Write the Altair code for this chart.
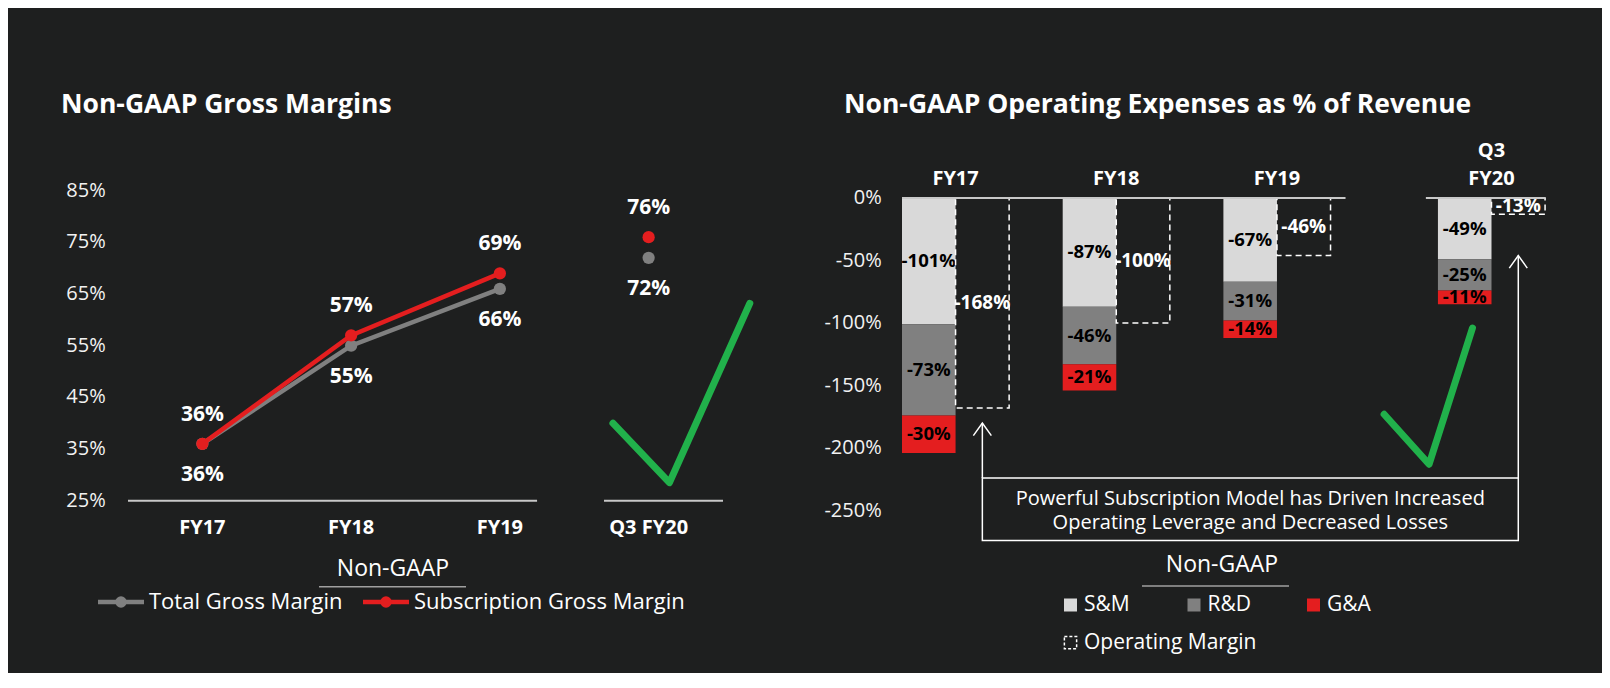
import altair as alt
import pandas as pd

# Non-GAAP gross margins (%)
gm_periods = ["FY17", "FY18", "FY19", "Q3 FY20"]
total_gm = [36, 55, 66, 72]
subscription_gm = [36, 57, 69, 76]
gm_ticks = [25, 35, 45, 55, 65, 75, 85]

# Non-GAAP operating expenses as % of revenue
opex_periods = ["FY17", "FY18", "FY19", "Q3 FY20"]
sm_pct = [-101, -87, -67, -49]
rd_pct = [-73, -46, -31, -25]
ga_pct = [-30, -21, -14, -11]
op_margin = [-168, -100, -46, -13]
opex_ticks = [0, -50, -100, -150, -200, -250]

# hand-drawn check marks, in each panel's data units
check_gm_x = [2.76, 3.14, 3.68]
check_gm_y = [40.0, 28.5, 63.2]
check_opex_x = [3.0, 3.28, 3.55]
check_opex_y = [-173, -213, -104]

note_text = "Powerful Subscription Model has Driven Increased\nOperating Leverage and Decreased Losses"

BG = "#1E1F1F"
FONT = "Open Sans"
WHITE = "#FFFFFF"
TICK = "#F2F2F2"
RED = "#E41E1F"
GRAY = "#808080"
LIGHT = "#D9D9D9"
GREEN = "#21B14B"
RULE = "#C8C8C8"
PANEL_W, PANEL_H = 797, 665
SLOT = [0, 1, 2, 3.335]  # left edge of each opex group (Q3 sits apart)
BAR = 1 / 3


def text_at(label, x, y, size=20, weight="normal", align="center", color=WHITE):
    return (
        alt.Chart(pd.DataFrame({"t": [label]}))
        .mark_text(font=FONT, fontSize=size, fontWeight=weight, align=align,
                   baseline="middle", color=color)
        .encode(x=alt.value(x), y=alt.value(y), text="t:N")
    )


def hline_at(x0, x1, y, color=RULE, width=1.5):
    return (
        alt.Chart(pd.DataFrame({"a": [0]}))
        .mark_rule(color=color, strokeWidth=width)
        .encode(x=alt.value(x0), x2=alt.value(x1), y=alt.value(y))
    )


# ---------------- left panel ----------------
gx = alt.Scale(domain=[-0.5, 3.5], range=[120, 715], nice=False, zero=False)
gy = alt.Scale(domain=[25, 85], range=[492.7, 182.7], nice=False, zero=False)


def gxy(xf, yf):
    return dict(x=alt.X(xf, type="quantitative", scale=gx, axis=None),
                y=alt.Y(yf, type="quantitative", scale=gy, axis=None))


gm = pd.DataFrame({
    "i": list(range(len(gm_periods))) * 2,
    "series": ["total"] * len(total_gm) + ["sub"] * len(subscription_gm),
    "value": total_gm + subscription_gm,
})
gm["label"] = gm["value"].astype(str) + "%"

gm_yticks = (
    alt.Chart(pd.DataFrame({"v": gm_ticks, "t": [f"{v}%" for v in gm_ticks]}))
    .mark_text(font=FONT, fontSize=20, color=TICK, align="right", baseline="middle")
    .encode(x=alt.value(97.7), y=alt.Y("v:Q", scale=gy, axis=None), text="t:N")
)
gm_xticks = (
    alt.Chart(pd.DataFrame({"i": range(len(gm_periods)), "t": gm_periods}))
    .mark_text(font=FONT, fontSize=20, fontWeight="bold", color=WHITE, baseline="middle")
    .encode(x=alt.X("i:Q", scale=gx, axis=None), y=alt.value(520), text="t:N")
)
baseline = (
    alt.Chart(pd.DataFrame({"x": [-0.5, 2.7], "x2": [2.25, 3.5], "y": [25, 25]}))
    .mark_rule(color=RULE, strokeWidth=2)
    .encode(x2="x2:Q", **gxy("x", "y"))
)

gm_layers = [gm_yticks, gm_xticks, baseline]
for name, color, dy in (("total", GRAY, 31), ("sub", RED, -29)):
    d = gm[gm["series"] == name]
    gm_layers.append(
        alt.Chart(d[d["i"] < 3]).mark_line(color=color, strokeWidth=4.5).encode(**gxy("i", "value"))
    )
    gm_layers.append(
        alt.Chart(d).mark_circle(color=color, size=150, opacity=1).encode(**gxy("i", "value"))
    )
    gm_layers.append(
        alt.Chart(d)
        .mark_text(dy=dy, font=FONT, fontSize=21, fontWeight="bold", color=WHITE)
        .encode(text="label:N", **gxy("i", "value"))
    )

check_gm = pd.DataFrame({"x": check_gm_x, "y": check_gm_y, "k": range(len(check_gm_x))})
gm_layers.append(
    alt.Chart(check_gm)
    .mark_line(color=GREEN, strokeWidth=7, strokeCap="round", strokeJoin="round")
    .encode(order="k:Q", **gxy("x", "y"))
)

gm_layers += [
    text_at("Non-GAAP Gross Margins", 53, 97, size=26.5, weight="bold", align="left"),
    text_at("Non-GAAP", 385, 561, size=23),
    hline_at(311, 458, 578.7, color="#A0A0A0"),
]
for label, color, x0 in (("Total Gross Margin", GRAY, 90), ("Subscription Gross Margin", RED, 355)):
    gm_layers.append(hline_at(x0, x0 + 46, 594, color=color, width=4.5))
    gm_layers.append(
        alt.Chart(pd.DataFrame({"a": [0]}))
        .mark_circle(color=color, size=130, opacity=1)
        .encode(x=alt.value(x0 + 23), y=alt.value(594))
    )
    gm_layers.append(text_at(label, x0 + 51, 594, size=22, align="left"))

left = alt.layer(*gm_layers).properties(width=PANEL_W, height=PANEL_H)

# ---------------- right panel ----------------
ox = alt.Scale(domain=[0, 4], range=[97, 739.8], nice=False, zero=False)
oy = alt.Scale(domain=[-250, 0], range=[502.5, 190], nice=False, zero=False)


def oxy(xf, yf):
    return dict(x=alt.X(xf, type="quantitative", scale=ox, axis=None),
                y=alt.Y(yf, type="quantitative", scale=oy, axis=None))


seg_rows = []
for k, period in enumerate(opex_periods):
    top = 0
    for name, vals in (("S&M", sm_pct), ("R&D", rd_pct), ("G&A", ga_pct)):
        v = vals[k]
        seg_rows.append({
            "seg": name, "x": SLOT[k], "x2": SLOT[k] + BAR, "xm": SLOT[k] + BAR / 2,
            "top": top, "bottom": top + v, "mid": top + v / 2, "label": f"{v}%",
        })
        top += v
seg = pd.DataFrame(seg_rows)

opm = pd.DataFrame({
    "x": [s + BAR for s in SLOT],
    "x2": [s + 2 * BAR for s in SLOT],
    "xm": [s + 0.5 for s in SLOT],
    "y": [0] * len(op_margin),
    "y2": op_margin,
    "mid": [m / 2 for m in op_margin],
    "label": [f"{m}%" for m in op_margin],
})

opex_yticks = (
    alt.Chart(pd.DataFrame({"v": opex_ticks, "t": [f"{v}%" for v in opex_ticks]}))
    .mark_text(font=FONT, fontSize=20, color=TICK, align="right", baseline="middle")
    .encode(x=alt.value(76.7), y=alt.Y("v:Q", scale=oy, axis=None), text="t:N")
)
bars = (
    alt.Chart(seg)
    .mark_rect()
    .encode(
        x2="x2:Q",
        y2="bottom:Q",
        color=alt.Color("seg:N", scale=alt.Scale(domain=["S&M", "R&D", "G&A"],
                                                 range=[LIGHT, GRAY, RED]), legend=None),
        **oxy("x", "top"),
    )
)
bar_labels = (
    alt.Chart(seg)
    .mark_text(font=FONT, fontSize=18.5, fontWeight="bold", color="#000000")
    .encode(text="label:N", **oxy("xm", "mid"))
)
boxes = (
    alt.Chart(opm)
    .mark_rect(fillOpacity=0, stroke=WHITE, strokeWidth=1.5, strokeDash=[6, 4])
    .encode(x2="x2:Q", y2="y2:Q", **oxy("x", "y"))
)
box_labels = (
    alt.Chart(opm)
    .mark_text(font=FONT, fontSize=19, fontWeight="bold", color=WHITE)
    .encode(text="label:N", **oxy("xm", "mid"))
)
zero_line = (
    alt.Chart(pd.DataFrame({"x": [0, 3.26], "x2": [2.76, 4.0], "y": [0, 0]}))
    .mark_rule(color=RULE, strokeWidth=2)
    .encode(x2="x2:Q", **oxy("x", "y"))
)
period_df = pd.DataFrame({
    "x": [s + BAR for s in SLOT],
    "lower": [p.split(" ")[-1] for p in opex_periods],
    "upper": [" ".join(p.split(" ")[:-1]) for p in opex_periods],
})
period_lower = (
    alt.Chart(period_df)
    .mark_text(font=FONT, fontSize=20, fontWeight="bold", color=WHITE, baseline="middle")
    .encode(x=alt.X("x:Q", scale=ox, axis=None), y=alt.value(171), text="lower:N")
)
period_upper = (
    alt.Chart(period_df[period_df["upper"] != ""])
    .mark_text(font=FONT, fontSize=20, fontWeight="bold", color=WHITE, baseline="middle")
    .encode(x=alt.X("x:Q", scale=ox, axis=None), y=alt.value(143), text="upper:N")
)

# note box linking FY17 and Q3 FY20 operating margins
x_first, x_last = SLOT[0] + 0.5, SLOT[-1] + 0.5
note_box = (
    alt.Chart(pd.DataFrame({"x": [x_first], "x2": [x_last], "y": [-224], "y2": [-274]}))
    .mark_rect(fillOpacity=0, stroke=WHITE, strokeWidth=1.5)
    .encode(x2="x2:Q", y2="y2:Q", **oxy("x", "y"))
)
arrows = pd.DataFrame({"x": [x_first, x_last], "y": [-224, -224], "tip": [-180, -46]})
arrow_lines = (
    alt.Chart(arrows).mark_rule(color=WHITE, strokeWidth=1.5)
    .encode(y2="tip:Q", **oxy("x", "y"))
)
arrow_heads = (
    alt.Chart(arrows)
    .mark_point(shape="M-1,1.4L0,0L1,1.4", filled=False, stroke=WHITE,
                strokeWidth=1.5, size=324, opacity=1)
    .encode(**oxy("x", "tip"))
)
note = (
    alt.Chart(pd.DataFrame({"t": [note_text], "x": [(x_first + x_last) / 2], "y": [-241]}))
    .mark_text(font=FONT, fontSize=20, color=WHITE, baseline="middle",
               lineBreak="\n", lineHeight=24)
    .encode(text="t:N", **oxy("x", "y"))
)
check_opex = pd.DataFrame({"x": check_opex_x, "y": check_opex_y, "k": range(len(check_opex_x))})
check_r = (
    alt.Chart(check_opex)
    .mark_line(color=GREEN, strokeWidth=7, strokeCap="round", strokeJoin="round")
    .encode(order="k:Q", **oxy("x", "y"))
)

opex_layers = [opex_yticks, bars, bar_labels, boxes, box_labels, zero_line,
               period_lower, period_upper, note_box, arrow_lines, arrow_heads,
               note, check_r,
               text_at("Non-GAAP Operating Expenses as % of Revenue", 39, 97,
                       size=26.5, weight="bold", align="left"),
               text_at("Non-GAAP", 417, 557, size=23),
               hline_at(337, 484, 578, color="#A0A0A0")]
for label, color, xc in (("S&M", LIGHT, 265.5), ("R&D", GRAY, 389), ("G&A", RED, 508.5)):
    opex_layers.append(
        alt.Chart(pd.DataFrame({"a": [0]}))
        .mark_square(color=color, size=169, opacity=1)
        .encode(x=alt.value(xc), y=alt.value(597))
    )
    opex_layers.append(text_at(label, xc + 13.5, 597, size=21, align="left"))
opex_layers.append(
    alt.Chart(pd.DataFrame({"a": [0]}))
    .mark_square(filled=False, stroke=WHITE, strokeWidth=1.5, strokeDash=[3, 2],
                 size=150, opacity=1)
    .encode(x=alt.value(265.5), y=alt.value(634.7))
)
opex_layers.append(text_at("Operating Margin", 279, 634.7, size=21, align="left"))

right = alt.layer(*opex_layers).properties(width=PANEL_W, height=PANEL_H)

chart = (
    alt.hconcat(left, right, spacing=0)
    .properties(padding=0, background=BG)
    .configure_view(strokeWidth=0)
)
chart.save("out.html", embed_options={"renderer": "svg", "actions": False})
